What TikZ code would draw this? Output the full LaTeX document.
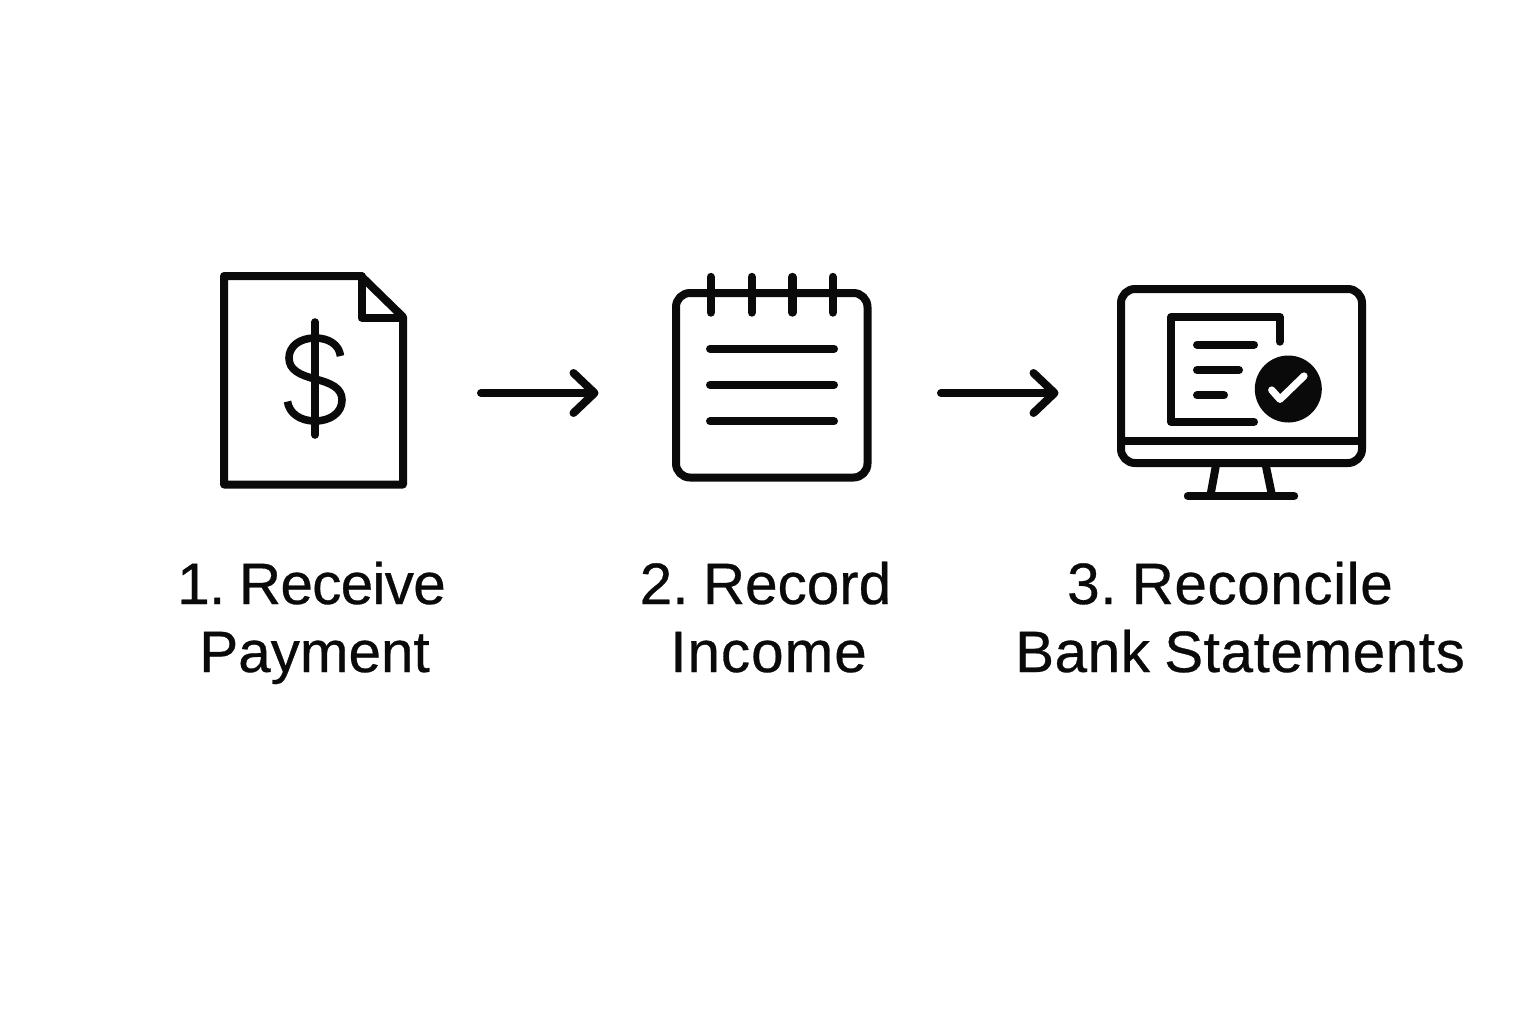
\documentclass[tikz,border=0pt]{standalone}
\usepackage{fontspec}
\setmainfont[FakeBold=0.5,WordSpace=0.85]{Liberation Sans}
\usetikzlibrary{arrows.meta}
\definecolor{ink}{HTML}{0A0A0A}
\newcommand{\trk}[1]{\addfontfeature{LetterSpace=#1}}
\tikzset{
  icon/.style={draw=ink,line width=4pt,line join=round,line cap=round},
  thin icon/.style={icon,line width=3.8pt},
  flow/.style={icon,-{Straight Barb[length=10.5pt,width=20pt,round]}},
  lab/.style={text=ink,anchor=base,inner sep=0pt,font=\fontsize{29.2}{29.2}\selectfont}
}
\begin{document}
\begin{tikzpicture}[x=0.5pt,y=-0.5pt]
\useasboundingbox (0,0) rectangle (1536,1024);
\fill[white] (0,0) rectangle (1536,1024);
% document icon
\draw[icon] (224,276) -- (361,276) -- (403,317) -- (403,484.5) -- (224,484.5) -- cycle;
\draw[icon] (361.5,276) -- (361.5,317.5) -- (403,317.5);
\draw[thin icon] (315,322) -- (315,435);
\draw[thin icon,line cap=butt] (340.5,356) .. controls (339,344) and (328,338) .. (315,338)
  .. controls (300,338) and (289,346) .. (289,358) .. controls (289,370) and (300,375) .. (315,379)
  .. controls (331,383) and (342,388) .. (342,400) .. controls (342,413) and (330,421) .. (315,421)
  .. controls (300,421) and (289,413) .. (287.5,401.5);
% arrows
\coordinate (a1s) at (481,393); \coordinate (a1e) at (598.5,393);
\coordinate (a2s) at (941,393); \coordinate (a2e) at (1058.5,393);
\draw[flow] (a1s) -- (a1e);
\draw[flow] (a2s) -- (a2e);
% notepad icon
\draw[icon,rounded corners=7pt] (676,293) rectangle (867.5,477.5);
\foreach \rx in {710.7,751.7,792.3,832.7}{\draw[icon,line width=4.2pt] (\rx,277) -- (\rx,312.5);}
\foreach \ly in {348.7,385,421.3}{\draw[icon] (710,\ly) -- (834,\ly);}
% monitor icon
\draw[icon,rounded corners=7pt] (1121,289) rectangle (1362,463);
\draw[icon,line cap=butt] (1121,441) -- (1362,441);
\draw[icon,line cap=butt] (1216,465) -- (1210.7,494);
\draw[icon,line cap=butt] (1265.7,465) -- (1271.7,494);
\draw[icon,line width=4.2pt] (1188,496) -- (1294,496);
\draw[icon] (1279.7,341.7) -- (1279.7,317) -- (1171,317) -- (1171,421.8) -- (1254,421.8);
\draw[icon] (1197,344.7) -- (1254,344.7);
\draw[icon] (1197,370) -- (1239,370);
\draw[icon] (1197,395.3) -- (1224,395.3);
\fill[ink] (1288.3,389) circle[radius=33.5];
\draw[white,line width=3.6pt,line cap=round,line join=round] (1271.7,390) -- (1280,399.3) -- (1304,376);
% labels
\node[lab] (l1a) at (311.5,604) {\trk{-1.2}1.\hspace{-0.08em} Receive};
\node[lab] (l1b) at (314.5,672) {Payment};
\node[lab] (l2a) at (765.5,604) {2.\hspace{-0.08em} Record};
\node[lab] (l2b) at (768.5,672) {\trk{1.7}Income};
\node[lab] (l3a) at (1230,604) {\trk{1}3.\hspace{-0.08em} Reconcile};
\node[lab] (l3b) at (1240,672) {\trk{1}Bank Statements};
\end{tikzpicture}
\end{document}
